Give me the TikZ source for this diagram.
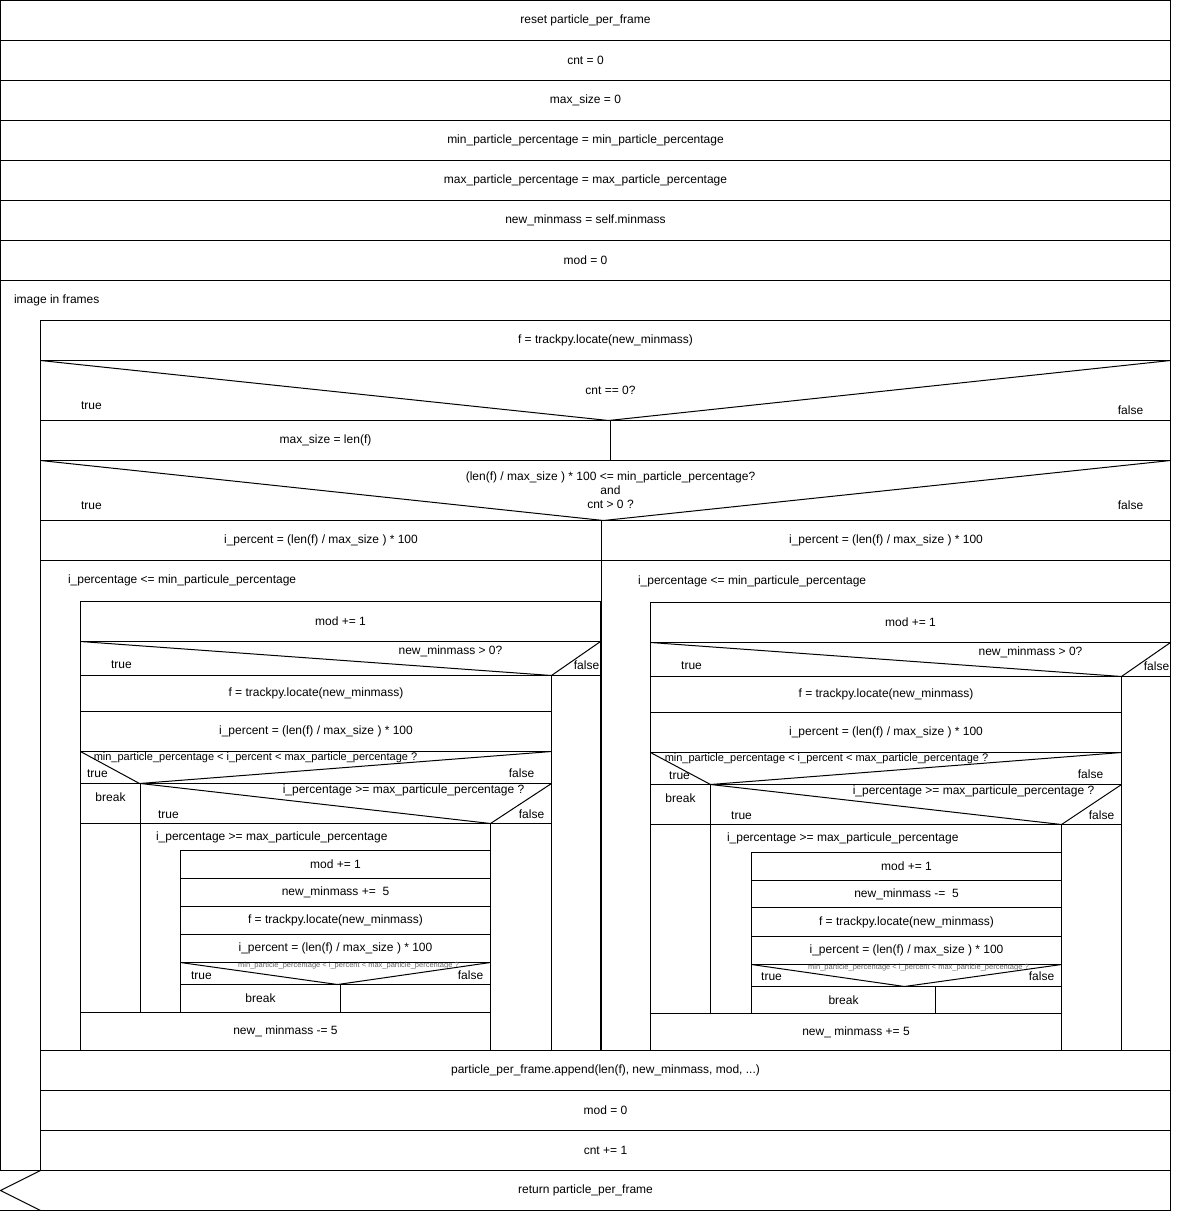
\documentclass[tikz,border=0pt]{standalone}
\usepackage{fontspec}
\setmainfont{Liberation Sans}
\usetikzlibrary{shapes}
\tikzstyle{cell} = [rectangle, draw, inner sep=0pt, outer sep=0pt,
    font=\fontsize{12}{14}\selectfont]
\tikzstyle{lbl} = [inner sep=0pt, font=\fontsize{12}{14}\selectfont]
\tikzstyle{hdr} = [lbl, anchor=west]
\tikzstyle{cond} = [inner sep=0pt, font=\fontsize{11}{13}\selectfont]
\tikzstyle{tiny} = [inner sep=0pt, text=black!60, font=\fontsize{7.5}{8}\selectfont]
\tikzstyle{body} = [draw, line width=1.8pt]

\begin{document}
\begin{tikzpicture}[x=1pt,y=-1pt,line width=1pt]
  \useasboundingbox (-0.5,-0.5) rectangle (1179.5,1212.5);

  \node[cell, minimum width=1170pt, minimum height=40pt] (reset) at (585,20) {reset particle\_per\_frame};
  \node[cell, minimum width=1170pt, minimum height=40pt] (cnt) at (585,60) {cnt = 0};
  \node[cell, minimum width=1170pt, minimum height=40pt] (maxsz) at (585,100) {max\_size = 0};
  \node[cell, minimum width=1170pt, minimum height=40pt] (minpp) at (585,140) {min\_particle\_percentage = min\_particle\_percentage};
  \node[cell, minimum width=1170pt, minimum height=40pt] (maxpp) at (585,180) {max\_particle\_percentage = max\_particle\_percentage};
  \node[cell, minimum width=1170pt, minimum height=40pt] (minmass) at (585,220) {new\_minmass = self.minmass};
  \node[cell, minimum width=1170pt, minimum height=40pt] (mod) at (585,260) {mod = 0};

  \draw (0,280) rectangle (1170,1170);
  \node[hdr] (frames) at (13,300) {image in frames};
  \draw[body] (40,320) rectangle (1170,1170);

  \node[cell, minimum width=1130pt, minimum height=40pt] (locate) at (605,340) {f = trackpy.locate(new\_minmass)};
  \draw (40,360) rectangle (1170,420);
  \draw (40,360) -- (608,420) -- (1170,360);
  \node[lbl] (cntzero) at (610,390) {cnt == 0?};
  \node[lbl] (t1) at (91,405) {true};
  \node[lbl] (f1) at (1130,410) {false};
  \node[cell, minimum width=570pt, minimum height=40pt] (maxlen) at (325,440) {max\_size = len(f)};
  \node[cell, minimum width=560pt, minimum height=40pt] (nomax) at (890,440) {};

  \draw (40,460) rectangle (1170,520);
  \draw (40,460) -- (603,520) -- (1170,460);
  \node[lbl, align=center] (ratio) at (610,490) {(len(f) / max\_size ) * 100 <= min\_particle\_percentage?\\and\\cnt > 0 ?};
  \node[lbl] (t2) at (91,505) {true};
  \node[lbl] (f2) at (1130,505) {false};
  \node[cell, minimum width=561pt, minimum height=40pt] (lperc) at (320.5,540) {i\_percent = (len(f) / max\_size ) * 100};
  \node[cell, minimum width=569pt, minimum height=40pt] (rperc) at (885.5,540) {i\_percent = (len(f) / max\_size ) * 100};

  \draw (40,560) rectangle (601,1050);
  \node[hdr] (lwhile) at (67,580) {i\_percentage <= min\_particule\_percentage};
  \draw[body] (80,601) rectangle (600,1050);
  \node[cell, minimum width=520pt, minimum height=40pt] (lmod) at (340,621) {mod += 1};
  \draw (80,641) rectangle (600,675);
  \draw (80,641) -- (551,675) -- (600,641);
  \node[lbl] (lpos) at (450,651) {new\_minmass > 0?};
  \node[lbl] (lt1) at (121,664) {true};
  \node[lbl] (lf1) at (586,665) {false};
  \node[cell, minimum width=49pt, minimum height=375pt] (lnone1) at (575.5,862.5) {};
  \node[cell, minimum width=471pt, minimum height=36pt] (llocate) at (315.5,693) {f = trackpy.locate(new\_minmass)};
  \node[cell, minimum width=471pt, minimum height=40pt] (lperc2) at (315.5,731) {i\_percent = (len(f) / max\_size ) * 100};
  \draw (80,751) rectangle (551,783);
  \draw (80,751) -- (139,783) -- (551,751);
  \node[cond] (lrange) at (255,757) {min\_particle\_percentage < i\_percent < max\_particle\_percentage ?};
  \node[lbl] (lt2) at (97,773) {true};
  \node[lbl] (lf2) at (521,773) {false};
  \node[cell, minimum width=60pt, minimum height=40pt] (lbreak) at (110,803) {};
  \node[lbl] (lbrk) at (110,797) {break};
  \draw (80,823) rectangle (140,1012);
  \draw (140,783) rectangle (551,823);
  \draw (140,783) -- (490,823) -- (551,783);
  \node[lbl] (labove) at (403,790) {i\_percentage >= max\_particule\_percentage ?};
  \node[lbl] (lt3) at (168,814) {true};
  \node[lbl] (lf3) at (531,814) {false};
  \node[cell, minimum width=61pt, minimum height=227pt] (lnone2) at (520.5,936.5) {};
  \draw (140,823) rectangle (490,1012);
  \node[hdr] (lwhile2) at (155,837) {i\_percentage >= max\_particule\_percentage};
  \node[cell, minimum width=310pt, minimum height=28pt] (lmod2) at (335,864) {mod += 1};
  \node[cell, minimum width=310pt, minimum height=28pt] (lmass) at (335,892) {new\_minmass +=\ \ 5};
  \node[cell, minimum width=310pt, minimum height=28pt] (llocate2) at (335,920) {f = trackpy.locate(new\_minmass)};
  \node[cell, minimum width=310pt, minimum height=28pt] (lperc3) at (335,948) {i\_percent = (len(f) / max\_size ) * 100};
  \draw (180,962) rectangle (490,984);
  \draw (180,962) -- (337,984) -- (490,962);
  \node[tiny] (lrange2) at (348,965) {min\_particle\_percentage < i\_percent < max\_particle\_percentage ?};
  \node[lbl] (lt4) at (201,975) {true};
  \node[lbl] (lf4) at (470,975) {false};
  \node[cell, minimum width=160pt, minimum height=28pt] (lbreak2) at (260,998) {break};
  \node[cell, minimum width=150pt, minimum height=28pt] (lnone3) at (415,998) {};
  \node[cell, minimum width=410pt, minimum height=38pt] (ldec) at (285,1031) {new\_ minmass -= 5};

  \draw (601,560) rectangle (1170,1050);
  \node[hdr] (rwhile) at (637,581) {i\_percentage <= min\_particule\_percentage};
  \draw[body] (650,602) rectangle (1170,1050);
  \node[cell, minimum width=520pt, minimum height=40pt] (rmod) at (910,622) {mod += 1};
  \draw (650,642) rectangle (1170,676);
  \draw (650,642) -- (1121,676) -- (1170,642);
  \node[lbl] (rpos) at (1030,652) {new\_minmass > 0?};
  \node[lbl] (rt1) at (691,665) {true};
  \node[lbl] (rf1) at (1156,666) {false};
  \node[cell, minimum width=49pt, minimum height=374pt] (rnone1) at (1145.5,863) {};
  \node[cell, minimum width=471pt, minimum height=36pt] (rlocate) at (885.5,694) {f = trackpy.locate(new\_minmass)};
  \node[cell, minimum width=471pt, minimum height=40pt] (rperc2) at (885.5,732) {i\_percent = (len(f) / max\_size ) * 100};
  \draw (650,752) rectangle (1121,784);
  \draw (650,752) -- (710,784) -- (1121,752);
  \node[cond] (rrange) at (826,758) {min\_particle\_percentage < i\_percent < max\_particle\_percentage ?};
  \node[lbl] (rt2) at (679,775) {true};
  \node[lbl] (rf2) at (1090,774) {false};
  \node[cell, minimum width=60pt, minimum height=40pt] (rbreak) at (680,804) {};
  \node[lbl] (rbrk) at (680,798) {break};
  \draw (650,824) rectangle (710,1013);
  \draw (710,784) rectangle (1121,824);
  \draw (710,784) -- (1061,824) -- (1121,784);
  \node[lbl] (rabove) at (973,791) {i\_percentage >= max\_particule\_percentage ?};
  \node[lbl] (rt3) at (741,815) {true};
  \node[lbl] (rf3) at (1101,815) {false};
  \node[cell, minimum width=60pt, minimum height=226pt] (rnone2) at (1091,937) {};
  \draw (710,824) rectangle (1061,1013);
  \node[hdr] (rwhile2) at (726,838) {i\_percentage >= max\_particule\_percentage};
  \node[cell, minimum width=310pt, minimum height=28pt] (rmod2) at (906,866) {mod += 1};
  \node[cell, minimum width=310pt, minimum height=27pt] (rmass) at (906,893.5) {new\_minmass -=\ \ 5};
  \node[cell, minimum width=310pt, minimum height=29pt] (rlocate2) at (906,921.5) {f = trackpy.locate(new\_minmass)};
  \node[cell, minimum width=310pt, minimum height=28pt] (rperc3) at (906,950) {i\_percent = (len(f) / max\_size ) * 100};
  \draw (751,964) rectangle (1061,986);
  \draw (751,964) -- (904,986) -- (1061,964);
  \node[tiny] (rrange2) at (918,967) {min\_particle\_percentage < i\_percent < max\_particle\_percentage ?};
  \node[lbl] (rt4) at (771,976) {true};
  \node[lbl] (rf4) at (1041,976) {false};
  \node[cell, minimum width=184pt, minimum height=27pt] (rbreak2) at (843,999.5) {break};
  \node[cell, minimum width=126pt, minimum height=27pt] (rnone3) at (998,999.5) {};
  \node[cell, minimum width=411pt, minimum height=37pt] (rinc) at (855.5,1031.5) {new\_ minmass += 5};

  \node[cell, minimum width=1130pt, minimum height=40pt] (append) at (605,1070) {particle\_per\_frame.append(len(f), new\_minmass, mod, ...)};
  \node[cell, minimum width=1130pt, minimum height=40pt] (modzero) at (605,1110) {mod = 0};
  \node[cell, minimum width=1130pt, minimum height=40pt] (cntinc) at (605,1150) {cnt += 1};

  \draw (0,1170) -- (1170,1170) -- (1170,1210) -- (0,1210);
  \draw (40,1170) -- (0,1190) -- (40,1210);
  \node[lbl] (return) at (585,1190) {return particle\_per\_frame};
\end{tikzpicture}
\end{document}
